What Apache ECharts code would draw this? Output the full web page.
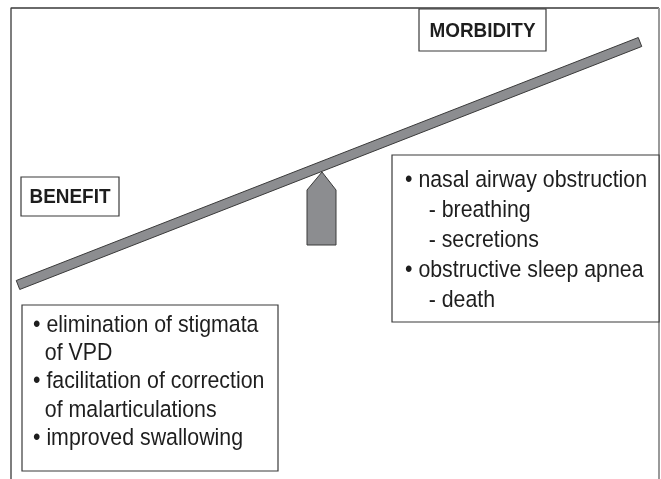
<!DOCTYPE html>
<html>
<head>
<meta charset="utf-8">
<title>Benefit vs morbidity</title>
<script src="https://cdn.jsdelivr.net/npm/echarts@6/dist/echarts.min.js"></script>
<style>
  html, body { margin: 0; padding: 0; background: #fff; }
  #main { width: 661px; height: 479px; }
</style>
</head>
<body>
<div id="main"></div>
<script>
// diagram data, in page units (x to the right, y downward)
const frameDark = [[11, 479], [11, 8], [659, 8]];
const frameLight = [[659, 8], [659, 479]];
const beamEnds = [[18, 285, 640, 42]];
const pivotShape = [[322, 172], [336, 190], [336, 245], [307, 245], [307, 190]];

const titleLabels = ['BENEFIT', 'MORBIDITY'];
const titleBoxes = [[21, 177, 119, 216], [419, 9, 546, 51]];

const benefitLines = [
  '• elimination of stigmata',
  '  of VPD',
  '• facilitation of correction',
  '  of malarticulations',
  '• improved swallowing'
];
const morbidityLines = [
  '• nasal airway obstruction',
  '    - breathing',
  '    - secretions',
  '• obstructive sleep apnea',
  '    - death'
];
const listBoxes = [[22, 305, 278, 471], [392, 155, 659, 322]];

// 样式
const listText = [benefitLines, morbidityLines];
const listPadTop = [20, 25];
const listLineH = [28.3, 30];
const listPadLeft = [11, 13];
const font = '"Liberation Sans", Arial, Helvetica, sans-serif';
const ink = '#1e1e1e';

const chart = echarts.init(document.getElementById('main'));

const option = {
  animation: false,
  backgroundColor: '#fff',
  grid: { left: 0, right: 0, top: 0, bottom: 0 },
  xAxis: { type: 'value', min: 0, max: 661, show: false },
  yAxis: { type: 'value', min: 0, max: 479, inverse: true, show: false },
  series: [
    {
      type: 'line',
      data: frameDark,
      symbol: 'none',
      lineStyle: { color: '#3a3a3a', width: 1.3 },
      z: 1
    },
    {
      type: 'line',
      data: frameLight,
      symbol: 'none',
      lineStyle: { color: '#9a9a9a', width: 2 },
      z: 1
    },
    {
      // beam
      type: 'custom',
      data: beamEnds,
      clip: false,
      z: 3,
      renderItem: function (params, api) {
        const a = api.coord([api.value(0), api.value(1)]);
        const b = api.coord([api.value(2), api.value(3)]);
        const dx = b[0] - a[0], dy = b[1] - a[1];
        const len = Math.sqrt(dx * dx + dy * dy);
        const h = 4.8;
        const nx = -dy / len * h, ny = dx / len * h;
        return {
          type: 'polygon',
          shape: {
            points: [
              [a[0] + nx, a[1] + ny], [b[0] + nx, b[1] + ny],
              [b[0] - nx, b[1] - ny], [a[0] - nx, a[1] - ny]
            ]
          },
          style: { fill: '#8c8d90', stroke: '#3a3a3a', lineWidth: 1 }
        };
      }
    },
    {
      // fulcrum
      type: 'custom',
      data: [0],
      clip: false,
      z: 3,
      renderItem: function (params, api) {
        return {
          type: 'polygon',
          shape: { points: pivotShape.map(p => api.coord(p)) },
          style: { fill: '#8c8d90', stroke: '#3a3a3a', lineWidth: 1 }
        };
      }
    },
    {
      // title boxes
      type: 'custom',
      data: titleBoxes,
      clip: false,
      z: 4,
      renderItem: function (params, api) {
        const p0 = api.coord([api.value(0), api.value(1)]);
        const p1 = api.coord([api.value(2), api.value(3)]);
        return {
          type: 'group',
          children: [
            {
              type: 'rect',
              shape: { x: p0[0], y: p0[1], width: p1[0] - p0[0], height: p1[1] - p0[1] },
              style: { fill: '#fff', stroke: '#3a3a3a', lineWidth: 1.2 }
            },
            {
              type: 'text',
              x: (p0[0] + p1[0]) / 2,
              y: (p0[1] + p1[1]) / 2 + 1,
              scaleX: 0.9,
              style: {
                text: titleLabels[params.dataIndex],
                fill: ink,
                font: 'bold 21px ' + font,
                align: 'center',
                verticalAlign: 'middle'
              }
            }
          ]
        };
      }
    },
    {
      // list boxes
      type: 'custom',
      data: listBoxes,
      clip: false,
      z: 4,
      renderItem: function (params, api) {
        const i = params.dataIndex;
        const p0 = api.coord([api.value(0), api.value(1)]);
        const p1 = api.coord([api.value(2), api.value(3)]);
        const children = [{
          type: 'rect',
          shape: { x: p0[0], y: p0[1], width: p1[0] - p0[0], height: p1[1] - p0[1] },
          style: { fill: '#fff', stroke: '#3a3a3a', lineWidth: 1.2 }
        }];
        listText[i].forEach(function (line, k) {
          children.push({
            type: 'text',
            x: p0[0] + listPadLeft[i],
            y: p0[1] + listPadTop[i] + k * listLineH[i],
            scaleX: 0.87,
            style: {
              text: line,
              fill: ink,
              font: '24.5px ' + font,
              align: 'left',
              verticalAlign: 'middle'
            }
          });
        });
        return { type: 'group', children: children };
      }
    }
  ]
};

chart.setOption(option);
</script>
</body>
</html>
